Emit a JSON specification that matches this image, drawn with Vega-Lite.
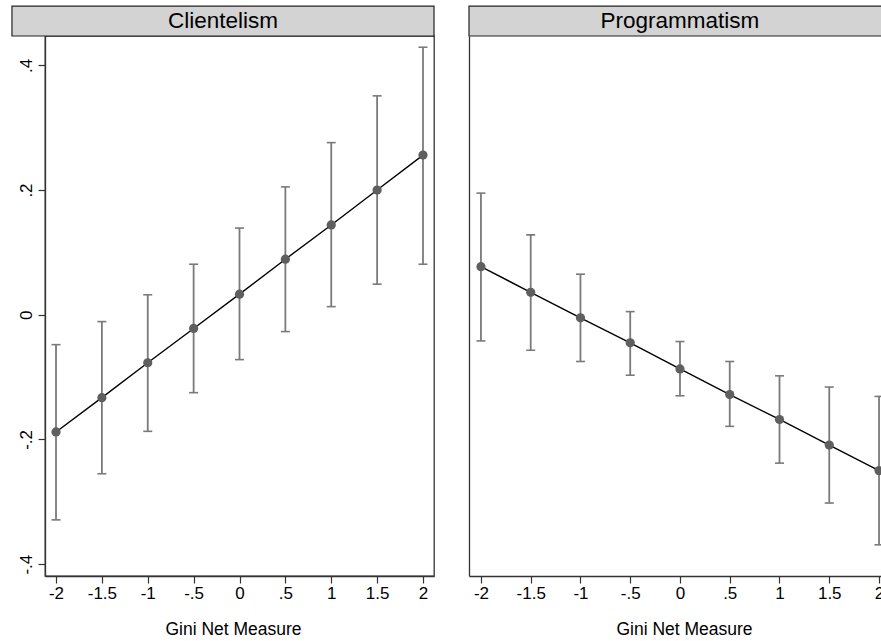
{
  "$schema": "https://vega.github.io/schema/vega-lite/v6.json",
  "padding": {"left": 10, "top": 4, "right": 0, "bottom": 0},
  "background": "white",
  "spacing": 35,
  "bounds": "flush",
  "config": {
    "font": "Liberation Sans",
    "view": {"stroke": "#333333", "strokeWidth": 1.3},
    "axis": {
      "grid": false,
      "domainColor": "#333333",
      "domainWidth": 1.3,
      "tickColor": "#333333",
      "tickSize": 7,
      "tickWidth": 1.2,
      "labelFont": "Liberation Sans",
      "labelFontSize": 17,
      "labelColor": "#000000",
      "titleFont": "Liberation Sans",
      "titleFontSize": 17.5,
      "titleFontWeight": "normal",
      "titleColor": "#000000"
    }
  },
  "datasets": {
    "est": [
      {"panel": "Clientelism", "gini": -2, "est": -0.188, "lo": -0.329, "hi": -0.048},
      {"panel": "Clientelism", "gini": -1.5, "est": -0.133, "lo": -0.255, "hi": -0.011},
      {"panel": "Clientelism", "gini": -1, "est": -0.077, "lo": -0.187, "hi": 0.032},
      {"panel": "Clientelism", "gini": -0.5, "est": -0.022, "lo": -0.125, "hi": 0.081},
      {"panel": "Clientelism", "gini": 0, "est": 0.033, "lo": -0.072, "hi": 0.139},
      {"panel": "Clientelism", "gini": 0.5, "est": 0.089, "lo": -0.027, "hi": 0.205},
      {"panel": "Clientelism", "gini": 1, "est": 0.144, "lo": 0.013, "hi": 0.276},
      {"panel": "Clientelism", "gini": 1.5, "est": 0.2, "lo": 0.049, "hi": 0.351},
      {"panel": "Clientelism", "gini": 2, "est": 0.256, "lo": 0.081, "hi": 0.429},
      {"panel": "Programmatism", "gini": -2, "est": 0.077, "lo": -0.042, "hi": 0.195},
      {"panel": "Programmatism", "gini": -1.5, "est": 0.036, "lo": -0.057, "hi": 0.128},
      {"panel": "Programmatism", "gini": -1, "est": -0.005, "lo": -0.075, "hi": 0.065},
      {"panel": "Programmatism", "gini": -0.5, "est": -0.045, "lo": -0.097, "hi": 0.005},
      {"panel": "Programmatism", "gini": 0, "est": -0.087, "lo": -0.13, "hi": -0.043},
      {"panel": "Programmatism", "gini": 0.5, "est": -0.128, "lo": -0.179, "hi": -0.075},
      {"panel": "Programmatism", "gini": 1, "est": -0.168, "lo": -0.238, "hi": -0.098},
      {"panel": "Programmatism", "gini": 1.5, "est": -0.209, "lo": -0.302, "hi": -0.116},
      {"panel": "Programmatism", "gini": 2, "est": -0.25, "lo": -0.369, "hi": -0.131}
    ]
  },
  "hconcat": [
    {
      "width": 389,
      "height": 540,
      "data": {"name": "est"},
      "transform": [{"filter": "datum.panel === 'Clientelism'"}],
      "layer": [
        {
          "mark": {"type": "rule", "color": "#4a4a4a", "strokeWidth": 1.5},
          "encoding": {
            "x": {"field": "gini", "type": "quantitative", "title": "Gini Net Measure",
              "scale": {"domain": [-2.12, 2.12], "nice": false, "zero": false},
              "axis": {"values": [-2, -1.5, -1, -0.5, 0, 0.5, 1, 1.5, 2], "labelPadding": 2, "titlePadding": 19, "titleX": 188,
                "labelExpr": "replace('' + datum.value, regexp('^(-?)0[.]'), '$1.')"}},
            "y": {"datum": 0, "type": "quantitative", "title": null,
              "scale": {"domain": [-0.419, 0.447], "nice": false, "zero": false},
              "axis": {"values": [-0.4, -0.2, 0, 0.2, 0.4], "labelAngle": 270, "labelPadding": 3, "labelAlign": "center", "labelBaseline": "bottom",
                "labelExpr": "replace('' + datum.value, regexp('^(-?)0[.]'), '$1.')"}}
          }
        },
        {
          "mark": {"type": "rule", "color": "#7a7a7a", "strokeWidth": 1.8},
          "encoding": {
            "x": {"field": "gini", "type": "quantitative", "title": "Gini Net Measure"},
            "y": {"field": "lo", "type": "quantitative", "title": null},
            "y2": {"field": "hi"}
          }
        },
        {
          "mark": {"type": "tick", "orient": "horizontal", "color": "#7a7a7a", "size": 9, "thickness": 1.6, "opacity": 1},
          "encoding": {
            "x": {"field": "gini", "type": "quantitative", "title": "Gini Net Measure"},
            "y": {"field": "lo", "type": "quantitative", "title": null}
          }
        },
        {
          "mark": {"type": "tick", "orient": "horizontal", "color": "#7a7a7a", "size": 9, "thickness": 1.6, "opacity": 1},
          "encoding": {
            "x": {"field": "gini", "type": "quantitative", "title": "Gini Net Measure"},
            "y": {"field": "hi", "type": "quantitative", "title": null}
          }
        },
        {
          "mark": {"type": "line", "color": "#000000", "strokeWidth": 1.4},
          "encoding": {
            "x": {"field": "gini", "type": "quantitative", "title": "Gini Net Measure"},
            "y": {"field": "est", "type": "quantitative", "title": null}
          }
        },
        {
          "mark": {"type": "circle", "color": "#5f5f5f", "size": 85, "opacity": 1},
          "encoding": {
            "x": {"field": "gini", "type": "quantitative", "title": "Gini Net Measure"},
            "y": {"field": "est", "type": "quantitative", "title": null}
          }
        },
        {
          "data": {"values": [{"label": "Clientelism"}]},
          "mark": {"type": "rect", "fill": "#d3d3d3", "stroke": "#222222", "strokeWidth": 1.2, "clip": false},
          "encoding": {
            "x": {"datum": -2.48, "type": "quantitative", "title": "Gini Net Measure"},
            "x2": {"datum": 2.12},
            "y": {"datum": 0.447, "type": "quantitative", "title": null},
            "y2": {"datum": 0.495}
          }
        },
        {
          "data": {"values": [{"label": "Clientelism"}]},
          "mark": {"type": "text", "fontSize": 22.5, "color": "#000000", "baseline": "middle", "align": "center", "clip": false},
          "encoding": {
            "x": {"datum": -0.18, "type": "quantitative", "title": "Gini Net Measure"},
            "y": {"datum": 0.471, "type": "quantitative", "title": null},
            "text": {"field": "label"}
          }
        }
      ]
    },
    {
      "width": 413,
      "height": 540,
      "view": {"stroke": null},
      "data": {"name": "est"},
      "transform": [{"filter": "datum.panel === 'Programmatism'"}],
      "layer": [
        {
          "mark": {"type": "rule", "color": "#4a4a4a", "strokeWidth": 1.5},
          "encoding": {
            "x": {"field": "gini", "type": "quantitative", "title": "Gini Net Measure",
              "scale": {"domain": [-2.12, 2.03], "nice": false, "zero": false},
              "axis": {"values": [-2, -1.5, -1, -0.5, 0, 0.5, 1, 1.5, 2], "labelPadding": 2, "titlePadding": 19, "titleX": 215,
                "labelExpr": "replace('' + datum.value, regexp('^(-?)0[.]'), '$1.')"}},
            "y": {"datum": 0, "type": "quantitative", "title": null,
              "scale": {"domain": [-0.419, 0.447], "nice": false, "zero": false},
              "axis": {"labels": false, "ticks": false, "domain": true}}
          }
        },
        {
          "mark": {"type": "rule", "color": "#7a7a7a", "strokeWidth": 1.8},
          "encoding": {
            "x": {"field": "gini", "type": "quantitative", "title": "Gini Net Measure"},
            "y": {"field": "lo", "type": "quantitative", "title": null},
            "y2": {"field": "hi"}
          }
        },
        {
          "mark": {"type": "tick", "orient": "horizontal", "color": "#7a7a7a", "size": 9, "thickness": 1.6, "opacity": 1},
          "encoding": {
            "x": {"field": "gini", "type": "quantitative", "title": "Gini Net Measure"},
            "y": {"field": "lo", "type": "quantitative", "title": null}
          }
        },
        {
          "mark": {"type": "tick", "orient": "horizontal", "color": "#7a7a7a", "size": 9, "thickness": 1.6, "opacity": 1},
          "encoding": {
            "x": {"field": "gini", "type": "quantitative", "title": "Gini Net Measure"},
            "y": {"field": "hi", "type": "quantitative", "title": null}
          }
        },
        {
          "mark": {"type": "line", "color": "#000000", "strokeWidth": 1.4},
          "encoding": {
            "x": {"field": "gini", "type": "quantitative", "title": "Gini Net Measure"},
            "y": {"field": "est", "type": "quantitative", "title": null}
          }
        },
        {
          "mark": {"type": "circle", "color": "#5f5f5f", "size": 85, "opacity": 1},
          "encoding": {
            "x": {"field": "gini", "type": "quantitative", "title": "Gini Net Measure"},
            "y": {"field": "est", "type": "quantitative", "title": null}
          }
        },
        {
          "data": {"values": [{"label": "Programmatism"}]},
          "mark": {"type": "rect", "fill": "#d3d3d3", "stroke": "#222222", "strokeWidth": 1.2, "clip": false},
          "encoding": {
            "x": {"datum": -2.12, "type": "quantitative", "title": "Gini Net Measure"},
            "x2": {"datum": 2.03},
            "y": {"datum": 0.447, "type": "quantitative", "title": null},
            "y2": {"datum": 0.495}
          }
        },
        {
          "data": {"values": [{"label": "Programmatism"}]},
          "mark": {"type": "text", "fontSize": 22.5, "color": "#000000", "baseline": "middle", "align": "center", "clip": false},
          "encoding": {
            "x": {"datum": 0, "type": "quantitative", "title": "Gini Net Measure"},
            "y": {"datum": 0.471, "type": "quantitative", "title": null},
            "text": {"field": "label"}
          }
        }
      ]
    }
  ]
}
